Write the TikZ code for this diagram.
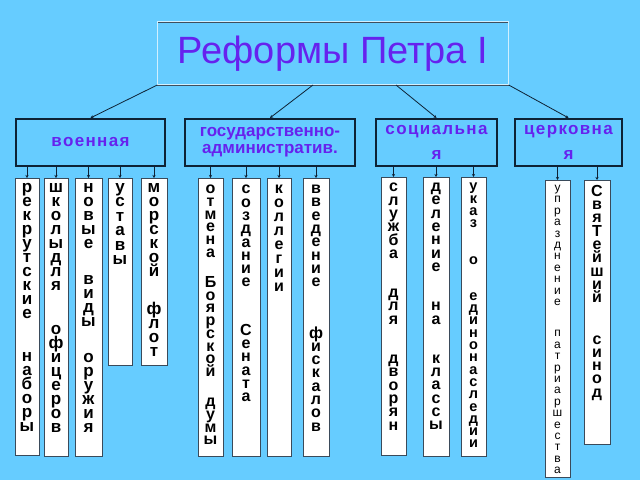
\documentclass[tikz,border=0pt]{standalone}
\usepackage{fontspec}
\setmainfont{Liberation Sans}
\newfontfamily\spacedfont[LetterSpace=8]{Liberation Sans}
\usepackage{tikz}
\usetikzlibrary{arrows.meta, positioning}
\definecolor{skyback}{HTML}{66CCFF}
\definecolor{titleviolet}{HTML}{6622EE}
\definecolor{darkline}{HTML}{0E2235}
\definecolor{boxedge}{HTML}{3A4A5A}
\newcommand{\stackfont}[2]{\bfseries\fontsize{#1}{#2}\selectfont\lineskiplimit=-50pt}
\newcommand{\thinstack}[2]{\mdseries\fontsize{#1}{#2}\selectfont\lineskiplimit=-50pt}
\tikzstyle{titlebox} = [draw=darkline!80, double=white!70!skyback, double distance=0.8pt, fill=skyback, minimum width=351pt, minimum height=63pt, inner sep=0pt, font=\fontsize{38}{40}\selectfont, text=titleviolet]
\tikzstyle{catbox} = [draw=darkline, line width=2.2pt, fill=skyback, minimum height=47pt, inner sep=0pt, align=center, font=\bfseries\fontsize{17}{17}\selectfont, text=titleviolet]
\tikzstyle{colbox} = [draw=boxedge, fill=white, line width=0.8pt, inner sep=0pt, anchor=north]
\tikzstyle{letters} = [inner sep=0pt, align=center, text width=16pt]
\tikzstyle{arrw} = [darkline, line width=0.8pt, -{Stealth[length=3pt, width=3pt]}]

\begin{document}
\begin{tikzpicture}[x=1pt, y=-1pt]
    \fill[skyback] (0,0) rectangle (640,480);

    % title
    \node (title) [titlebox] at (333,53.3) {Реформы Петра I};

    % reform areas
    \node (voen) [catbox, minimum width=149pt] at (90.5,142.5) {\spacedfont военная};
    \node (gos) [catbox, minimum width=170pt] at (270,142.5) {государственно-\\административ.};
    \node (soc) [catbox, minimum width=121pt] at (436.5,142.5) {\spacedfont социальна\\[8pt]\spacedfont я};
    \node (cerk) [catbox, minimum width=107pt] at (568.5,142.5) {\spacedfont церковна\\[8pt]\spacedfont я};
    \draw [arrw] (title.south west) -- (voen.north);
    \draw [arrw] ([xshift=-20pt]title.south) -- (gos.north);
    \draw [arrw] ([xshift=63pt]title.south) -- (soc.north);
    \draw [arrw] (title.south east) -- (cerk.north);

    % military
    \node (rek) [colbox, minimum width=24pt, minimum height=277pt] at (27,178) {};
    \node (shk) [colbox, minimum width=24pt, minimum height=278pt] at (56,178) {};
    \node (nov) [colbox, minimum width=27pt, minimum height=278pt] at (88.5,178) {};
    \node (ust) [colbox, minimum width=24pt, minimum height=187pt] at (120,178) {};
    \node (mor) [colbox, minimum width=26pt, minimum height=187pt] at (154,178) {};
    \node (rekt) [letters, font=\stackfont{17}{14}, below=5pt of rek.north] {р е к р у т с к и е\\[29pt]н а б о р ы};
    \node (shkt) [letters, font=\stackfont{17}{14}, below=5pt of shk.north] {ш к о л ы д л я\\[30pt]о ф и ц е р о в};
    \node (novt) [letters, font=\stackfont{17}{14}, below=5pt of nov.north] {н о в ы е\\[22pt]в и д ы\\[22pt]о р у ж и я};
    \node (ustt) [letters, font=\stackfont{17}{14.5}, below=5pt of ust.north] {у с т а в ы};
    \node (mort) [letters, font=\stackfont{17}{14}, below=5pt of mor.north] {м о р с к о й\\[24pt]ф л о т};
    \foreach \c in {rek,shk,nov,ust,mor}
        \draw [arrw] (\c.north |- voen.south) -- (\c.north);

    % state administration
    \node (otm) [colbox, minimum width=25pt, minimum height=278pt] at (210.5,178) {};
    \node (soz) [colbox, minimum width=28pt, minimum height=278pt] at (246,178) {};
    \node (kol) [colbox, minimum width=24pt, minimum height=278pt] at (279,178) {};
    \node (vve) [colbox, minimum width=26pt, minimum height=278pt] at (316,178) {};
    \node (otmt) [letters, font=\stackfont{16}{12.7}, below=7pt of otm.north] {о т м е н а\\[17.5pt]Б о я р с к о й\\[17.5pt]д у м ы};
    \node (sozt) [letters, font=\stackfont{16}{13.3}, below=7pt of soz.north] {с о з д а н и е\\[35pt]С е н а т а};
    \node (kolt) [letters, font=\stackfont{16}{14}, below=7pt of kol.north] {к о л л е г и и};
    \node (vvet) [letters, font=\stackfont{16}{13.3}, below=7pt of vve.north] {в в е д е н и е\\[38pt]ф и с к а л о в};
    \foreach \c in {otm,soz,kol,vve}
        \draw [arrw] (\c.north |- gos.south) -- (\c.north);

    % social
    \node (slu) [colbox, minimum width=25pt, minimum height=278pt] at (393.5,177) {};
    \node (del) [colbox, minimum width=26pt, minimum height=279pt] at (436,177) {};
    \node (uka) [colbox, minimum width=25pt, minimum height=279pt] at (473.5,177) {};
    \node (slut) [letters, font=\stackfont{16}{13.3}, below=6pt of slu.north] {с л у ж б а\\[26pt]д л я\\[26pt]д в о р я н};
    \node (delt) [letters, font=\stackfont{16}{13.3}, below=6pt of del.north] {д е л е н и е\\[26pt]н а\\[26pt]к л а с с ы};
    \node (ukat) [letters, font=\stackfont{14.5}{12.3}, below=6pt of uka.north] {у к а з\\[24pt]о\\[24pt]е д и н о н а с л е д и и};
    \foreach \c in {slu,del,uka}
        \draw [arrw] (\c.north |- soc.south) -- (\c.north);

    % church
    \node (upr) [colbox, minimum width=25pt, minimum height=297pt] at (557.5,180) {};
    \node (svy) [colbox, minimum width=26pt, minimum height=264pt] at (597,180) {};
    \node (uprt) [letters, text width=11pt, font=\thinstack{12}{11.4}, below=5pt of upr.north] {у п р а з д н е н и е\\[20pt]п а т р и а р ш е с т в а};
    \node (svyt) [letters, font=\stackfont{16}{13.3}, below=5pt of svy.north] {С в я Т е й ш и й\\[28pt]с и н о д};
    \foreach \c in {upr,svy}
        \draw [arrw] (\c.north |- cerk.south) -- (\c.north);
\end{tikzpicture}
\end{document}
